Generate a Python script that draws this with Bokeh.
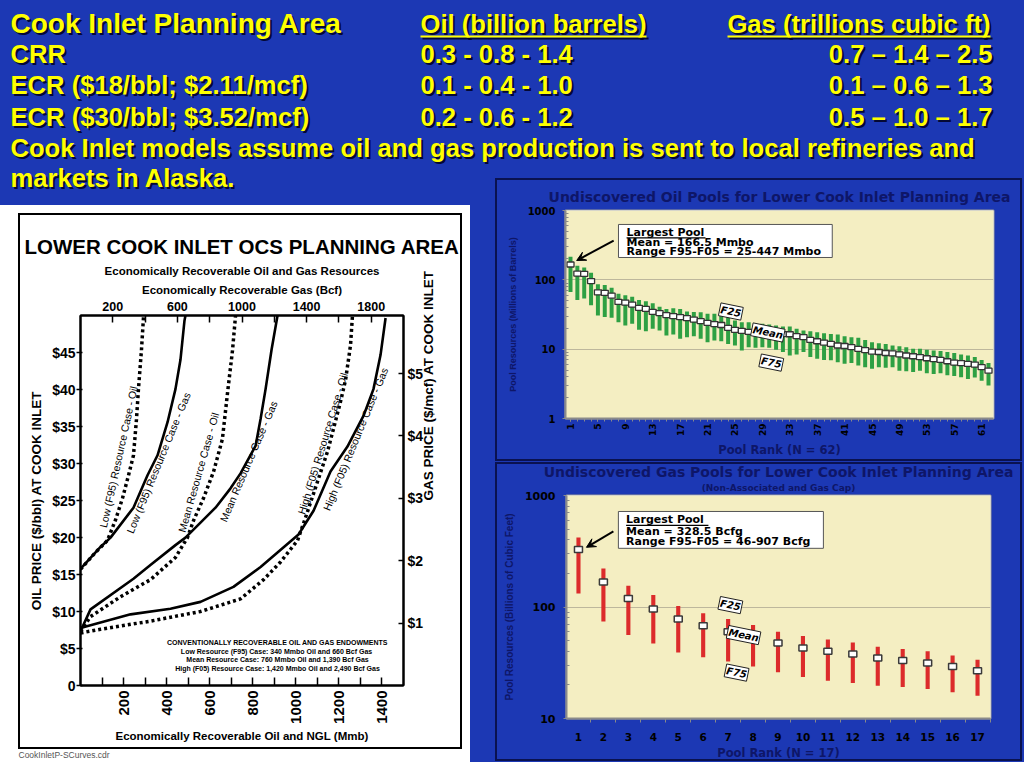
import math
from bokeh.plotting import figure
from bokeh.layouts import column, row
from bokeh.models import (Range1d, LinearAxis, FixedTicker, BoxAnnotation, Title,
                          Arrow, VeeHead, Label, PrintfTickFormatter)
from bokeh.core.properties import value
from bokeh.embed import file_html
from bokeh.resources import INLINE

# ---------------- header table ----------------
area_title = "Cook Inlet Planning Area"
oil_header = "Oil (billion barrels)"
gas_header = "Gas (trillions cubic ft)"
case_names = ["CRR", "ECR ($18/bbl; $2.11/mcf)", "ECR ($30/bbl; $3.52/mcf)"]
oil_ranges = ["0.3 - 0.8 - 1.4", "0.1 - 0.4 - 1.0", "0.2 - 0.6 - 1.2"]
gas_ranges = ["0.7 \u2013 1.4 \u2013 2.5", "0.1 \u2013 0.6 \u2013 1.3", "0.5 \u2013 1.0 \u2013 1.7"]
note_lines = ["Cook Inlet models assume oil and gas production is sent to local refineries and",
              "markets in Alaska."]

# ---------------- S-curve chart ----------------
oil_price_ticks = [0, 5, 10, 15, 20, 25, 30, 35, 40, 45]
oil_price_labels = ["0", "$5", "$10", "$15", "$20", "$25", "$30", "$35", "$40", "$45"]
gas_price_ticks = [1, 2, 3, 4, 5]
gas_price_labels = ["$1", "$2", "$3", "$4", "$5"]
oil_mmb_ticks = [100, 200, 300, 400, 500, 600, 700, 800, 900, 1000, 1100, 1200, 1300, 1400]
oil_mmb_labels = [200, 400, 600, 800, 1000, 1200, 1400]
gas_bcf_ticks = [200, 400, 600, 800, 1000, 1200, 1400, 1600, 1800]
gas_bcf_labels = [200, 600, 1000, 1400, 1800]

# oil curves: Mmb vs $/bbl (dotted)
low_oil_x = [0, 70, 125, 163, 195, 223, 246, 260, 269, 283, 293]
low_oil_y = [15.7, 18.0, 19.6, 22.4, 25.3, 28.4, 31.1, 36.0, 40.0, 45.3, 50.0]
mean_oil_x = [0, 46, 186, 325, 441, 497, 525, 571, 618, 659, 683, 706, 720]
mean_oil_y = [7.3, 9.3, 12.0, 14.3, 17.3, 20.0, 22.3, 25.3, 28.9, 33.3, 39.6, 45.3, 50.0]
high_oil_x = [0, 93, 325, 557, 743, 850, 929, 1008, 1045, 1091, 1147, 1175, 1207, 1231, 1254, 1263]
high_oil_y = [7.1, 7.6, 8.7, 10.0, 11.7, 14.3, 16.7, 19.6, 22.7, 26.7, 31.6, 34.7, 38.3, 41.3, 46.0, 50.0]
# gas curves: Bcf vs $/mcf (solid)
low_gas_x = [0, 124, 186, 328, 415, 477, 539, 588, 619, 644, 650]
low_gas_y = [1.87, 2.22, 2.37, 2.85, 3.37, 3.69, 4.22, 4.75, 5.22, 5.85, 5.93]
mean_gas_x = [0, 62, 328, 433, 588, 650, 743, 836, 929, 991, 1084, 1115, 1146, 1183, 1220]
mean_gas_y = [0.87, 1.22, 1.71, 1.93, 2.25, 2.37, 2.61, 2.85, 3.16, 3.40, 3.84, 4.27, 4.75, 5.38, 5.93]
high_gas_x = [0, 310, 557, 743, 947, 1115, 1350, 1443, 1548, 1653, 1752, 1814, 1858, 1889]
high_gas_y = [0.92, 1.14, 1.23, 1.34, 1.58, 1.90, 2.42, 2.80, 3.43, 3.83, 4.32, 4.75, 5.30, 5.89]

curve_names = ["Low (F95) Resource Case - Oil", "Low (F95) Resource Case - Gas",
               "Mean Resource Case - Oil", "Mean Resource Case - Gas",
               "High (F05) Resource Case - Oil", "High (F05) Resource Case - Gas"]
endowment_lines = ["CONVENTIONALLY RECOVERABLE OIL AND GAS ENDOWMENTS",
                   "Low Resource (F95) Case:  340 Mmbo Oil and 660 Bcf Gas",
                   "Mean Resource Case: 760 Mmbo Oil and 1,390 Bcf Gas",
                   "High (F05) Resource Case: 1,420 Mmbo Oil and 2,490 Bcf Gas"]

# ---------------- oil pools (62) ----------------
oil_rank = list(range(1, 63))
oil_rank_labels = [1, 5, 9, 13, 17, 21, 25, 29, 33, 37, 41, 45, 49, 53, 57, 61]
oil_mean = [166.5, 123, 122, 96, 66, 65, 59, 48, 47, 44,
            39.5, 38, 34.5, 33, 31, 30, 29, 28, 26.7, 25.3,
            24, 23, 22.3, 20.3, 19, 18.3, 17.8, 17.5, 17.2, 17,
            16.8, 16.5, 16.4, 15.4, 14.9, 13.6, 13.0, 12.4, 11.9, 11.3,
            11.1, 10.7, 10.1, 9.7, 9.2, 9.1, 8.8, 8.7, 8.4, 8.1,
            7.9, 7.7, 7.4, 7.2, 7.0, 6.7, 6.4, 6.3, 6.15, 6.0,
            5.5, 4.9]
oil_f25 = [215, 159, 151, 126, 86, 84, 77, 63, 60, 57,
           51, 49, 46, 41, 38, 39, 38, 35, 34.5, 34.2,
           32.4, 32.4, 30.7, 29.7, 25.9, 24.5, 24.5, 23.2, 23.2, 22.7,
           22.0, 21.3, 21.3, 19.7, 18.6, 18.2, 17.6, 17.0, 16.6, 16.3,
           15.3, 14.9, 14.6, 13.6, 12.6, 12.2, 11.9, 11.3, 11.0, 10.7,
           10.1, 10.1, 9.8, 9.6, 9.4, 9.1, 8.8, 8.4, 8.1, 7.7,
           7.0, 6.3]
oil_f75 = [67, 51, 54, 43, 30.7, 29.0, 28.4, 24.5, 22, 23.2,
           19.0, 18.2, 19.7, 18.6, 15.7, 16.3, 14.1, 14.9, 15.3, 14.1,
           12.6, 13.3, 13.0, 11.9, 11.3, 9.6, 10.7, 10.5, 10.7, 10.5,
           9.8, 9.1, 8.1, 8.4, 9.1, 7.7, 7.3, 7.0, 6.9, 6.5,
           6.15, 6.3, 5.8, 5.5, 5.2, 5.5, 5.4, 5.5, 4.9, 4.8,
           4.7, 4.9, 4.5, 4.4, 4.5, 4.2, 4.1, 3.95, 3.7, 3.9,
           3.5, 3.0]
oil_note = ["Largest Pool", "Mean = 166.5 Mmbo", "Range F95-F05 = 25-447 Mmbo"]

# ---------------- gas pools (17) ----------------
gas_rank = list(range(1, 18))
gas_mean = [328.5, 168, 119, 96, 78, 68, 60, 54, 47.5, 42.8, 40, 37.8, 34.8, 33.2, 31.4, 29.3, 26.8]
gas_f25 = [419, 221, 155, 128, 102, 88, 78, 69, 60, 55, 51, 48, 44, 42, 40, 36.8, 33.6]
gas_f75 = [132, 74, 56, 47, 39, 35.5, 32.5, 29.3, 26, 23.6, 21.8, 20.8, 19.7, 19.2, 18.4, 17.2, 16.0]
gas_note = ["Largest Pool", "Mean = 328.5 Bcfg", "Range F95-F05 = 46-907 Bcfg"]
tag_names = ["F25", "Mean", "F75"]

# ---------------- styles ----------------
BG = "#1c38b4"
YEL = "#ffff00"
SHADOW = "#00001e"
NAVY = "#0e1668"
EDGE = "#0a1250"
TAN = "#f4eec2"
GREEN = "#2ea043"
RED = "#dc2b2b"
LIB = "Liberation Sans"
DJV = "DejaVu Sans"


def css_frame(color, x, y, w, h, t, base):
    """CSS background drawing a rectangular outline (lines) over a base colour."""
    g = f"linear-gradient({color},{color})"
    return (f"{g} {x}px {y}px / {w}px {t}px no-repeat, "
            f"{g} {x}px {y + h - t}px / {w}px {t}px no-repeat, "
            f"{g} {x}px {y}px / {t}px {h}px no-repeat, "
            f"{g} {x + w - t}px {y}px / {t}px {h}px no-repeat, {base}")


def blank_fig(w, h):
    p = figure(width=w, height=h, x_range=Range1d(0, w), y_range=Range1d(h, 0),
               output_backend="svg", toolbar_location=None, min_border=0, title=None,
               x_axis_location=None, y_axis_location=None, frame_align=False)
    p.grid.visible = False
    p.outline_line_color = None
    p.background_fill_color = BG
    p.border_fill_color = BG
    return p


def yellow_text(p, xs, ys, texts, size, align="left"):
    common = dict(text_font=value(LIB), text_font_style="bold", text_font_size=size,
                  text_align=align, text_baseline="middle")
    p.text(x=[x + 2 for x in xs], y=[y + 2 for y in ys], text=texts,
           text_color=SHADOW, text_alpha=0.85, **common)
    p.text(x=xs, y=ys, text=texts, text_color=YEL, **common)


def style_axis(ax, font, lsize, asize, lcolor="black", acolor="black"):
    ax.major_label_text_font = font
    ax.major_label_text_font_size = lsize
    ax.major_label_text_font_style = "bold"
    ax.major_label_text_color = lcolor
    ax.axis_label_text_font = font
    ax.axis_label_text_font_size = asize
    ax.axis_label_text_font_style = "bold"
    ax.axis_label_text_color = acolor


# ================= header =================
hdr = blank_fig(1024, 165)
c1, c2, c3 = 10, 420, 992
row_y = [53.8, 84.8, 116.8]
yellow_text(hdr, [c1], [22.8], [area_title], "28px")
yellow_text(hdr, [c2], [23.8], [oil_header], "25.6px")
yellow_text(hdr, [c3 - 2], [23.8], [gas_header], "25.6px", align="right")
hdr.segment(x0=[c2 + 2, 727 + 2], y0=[38, 38], x1=[646 + 2, 990 + 2], y1=[38, 38],
            line_color=SHADOW, line_alpha=0.85, line_width=2)
hdr.segment(x0=[c2, 727], y0=[36, 36], x1=[646, 990], y1=[36, 36],
            line_color=YEL, line_width=2)
yellow_text(hdr, [c1] * 3, row_y, case_names, "25.6px")
yellow_text(hdr, [c2] * 3, row_y, oil_ranges, "25.6px")
yellow_text(hdr, [c3] * 3, row_y, gas_ranges, "25.6px", align="right")
yellow_text(hdr, [c1], [147.8], [note_lines[0]], "25.6px")

strip = blank_fig(470, 40)
yellow_text(strip, [c1], [12.8], [note_lines[1]], "25.6px")

# ================= S-curve chart =================
lp = figure(width=470, height=557, x_range=Range1d(0, 1500), y_range=Range1d(0, 50),
            output_backend="svg", toolbar_location=None, title=None, frame_align=False,
            min_border_left=80, min_border_right=67, min_border_top=110, min_border_bottom=72,
            styles={"background": css_frame("#000", 18, 8, 444, 536, 2, "#ffffff")})
lp.extra_x_ranges = {"gasx": Range1d(0, 2000)}
lp.extra_y_ranges = {"gasy": Range1d(0, 5.93)}
lp.grid.visible = False
lp.background_fill_color = "white"
lp.border_fill_color = "white"
lp.border_fill_alpha = 0
lp.outline_line_color = "black"
lp.outline_line_width = 2

ly = lp.yaxis[0]
ly.ticker = FixedTicker(ticks=oil_price_ticks)
ly.major_label_overrides = dict(zip(oil_price_ticks, oil_price_labels))
ly.axis_label = "OIL PRICE ($/bbl) AT COOK INLET"
style_axis(ly, LIB, "14px", "13.5px")
ly.axis_line_width = 2
ly.major_tick_in, ly.major_tick_out = 2, 4
ly.major_tick_line_width = 1.5
ly.minor_tick_line_color = None
ly.major_label_standoff = 1
ly.axis_label_standoff = 5

bx = lp.xaxis[0]
bx.ticker = FixedTicker(ticks=oil_mmb_ticks)
bx.major_label_overrides = {t: (str(t) if t in oil_mmb_labels else "") for t in oil_mmb_ticks}
bx.major_label_orientation = math.pi / 2
bx.axis_label = "Economically Recoverable Oil and NGL (Mmb)"
style_axis(bx, LIB, "15px", "11.5px")
bx.axis_line_width = 2
bx.major_tick_in, bx.major_tick_out = 8, 0
bx.major_tick_line_width = 1.5
bx.minor_tick_line_color = None
bx.major_label_standoff = 5
bx.axis_label_standoff = 3

tx = LinearAxis(x_range_name="gasx", ticker=FixedTicker(ticks=gas_bcf_ticks))
tx.major_label_overrides = {t: (str(t) if t in gas_bcf_labels else "") for t in gas_bcf_ticks}
tx.axis_label = "Economically Recoverable Gas (Bcf)"
style_axis(tx, LIB, "12.5px", "11.5px")
tx.axis_line_width = 2
tx.major_tick_in, tx.major_tick_out = 7, 0
tx.major_tick_line_width = 1.5
tx.minor_tick_line_color = None
tx.major_label_standoff = 5
tx.axis_label_standoff = 3
lp.add_layout(tx, "above")

ry = LinearAxis(y_range_name="gasy", ticker=FixedTicker(ticks=gas_price_ticks))
ry.major_label_overrides = dict(zip(gas_price_ticks, gas_price_labels))
ry.axis_label = "GAS PRICE ($/mcf) AT COOK INLET"
ry.axis_label_orientation = math.pi / 2
style_axis(ry, LIB, "14px", "13.5px")
ry.axis_line_width = 2
ry.major_tick_in, ry.major_tick_out = 5, 0
ry.major_tick_line_width = 1.5
ry.minor_tick_line_color = None
ry.major_label_standoff = 4
ry.axis_label_standoff = 2
lp.add_layout(ry, "right")

lp.add_layout(Title(text="Economically Recoverable Oil and Gas Resources", align="center",
                    text_font=LIB, text_font_size="11.5px", text_font_style="bold",
                    text_color="black", standoff=7), "above")
lp.add_layout(Title(text="LOWER COOK INLET OCS PLANNING AREA", align="center",
                    text_font=LIB, text_font_size="20.5px", text_font_style="bold",
                    text_color="black", standoff=4), "above")
lp.add_layout(Title(text="CookInletP-SCurves.cdr", align="left", offset=-62,
                    text_font=LIB, text_font_size="8.5px", text_font_style="normal",
                    text_color="#555555", standoff=6), "below")

for gx, gy in [(low_gas_x, low_gas_y), (mean_gas_x, mean_gas_y), (high_gas_x, high_gas_y)]:
    lp.line(gx, gy, x_range_name="gasx", y_range_name="gasy", line_color="black", line_width=2.6)
for ox_, oy_ in [(low_oil_x, low_oil_y), (mean_oil_x, mean_oil_y), (high_oil_x, high_oil_y)]:
    lp.line(ox_, oy_, line_color="black", line_width=3.5, line_dash="3 3")

lbl_x = [176, 362, 548, 780, 1124, 1277]
lbl_y = [30.9, 30.1, 28.8, 30.3, 32.7, 33.3]
lbl_deg = [77.6, 67.6, 74.0, 66.8, 73.0, 67.5]
lp.text(x=lbl_x, y=lbl_y, text=curve_names, angle=[math.radians(a) for a in lbl_deg],
        text_align="center", text_baseline="middle", text_font=value(LIB),
        text_font_size="10.5px", text_color="black")
lp.text(x=[915] * 4, y=[5.87, 4.53, 3.47, 2.27], text=endowment_lines,
        text_align="center", text_baseline="middle", text_font=value(LIB),
        text_font_size="7px", text_font_style="bold", text_color="black")


# ================= pool panels =================
def pool_fig(w, h, xr, yr, borders, outline_css):
    p = figure(width=w, height=h, x_range=Range1d(*xr), y_range=Range1d(*yr), y_axis_type="log",
               output_backend="svg", toolbar_location=None, title=None, frame_align=False,
               min_border_left=borders[0], min_border_right=borders[1],
               min_border_top=borders[2], min_border_bottom=borders[3],
               styles={"background": outline_css})
    p.background_fill_color = TAN
    p.border_fill_color = BG
    p.border_fill_alpha = 0
    p.outline_line_color = "#9a9a9a"
    p.outline_line_width = 2
    p.xgrid.visible = False
    return p


def panel_boxes(p, white):
    p.add_layout(BoxAnnotation(left=white[0], right=white[1], top=white[2], bottom=white[3],
                               fill_color="white", fill_alpha=1, line_alpha=0, level="image"))
    p.add_layout(BoxAnnotation(fill_color=TAN, fill_alpha=1, line_alpha=0, level="image"))


def log_y_axis(p, decades, label, lsize, asize, lstand, astand):
    ay = p.yaxis[0]
    minors = [m * d for d in decades[:-1] for m in range(2, 10)]
    ay.ticker = FixedTicker(ticks=decades, minor_ticks=minors)
    ay.formatter = PrintfTickFormatter(format="%d")
    style_axis(ay, DJV, lsize, asize, acolor=NAVY)
    ay.axis_label_text_font = LIB
    ay.axis_label = label
    ay.axis_line_color = "#8a8a8a"
    ay.axis_line_width = 2
    ay.major_tick_out, ay.major_tick_in = 3, 0
    ay.minor_tick_out, ay.minor_tick_in = 0, 3
    ay.major_tick_line_color = "#8a8a8a"
    ay.minor_tick_line_color = "#8a8a8a"
    ay.major_label_standoff = lstand
    ay.axis_label_standoff = astand
    p.ygrid.ticker = FixedTicker(ticks=decades)
    p.ygrid.grid_line_color = "#bdb79c"
    p.ygrid.grid_line_width = 1
    return ay


def note_box(p, box, tx_, ty, lines, uline, arrow):
    p.quad(left=[box[0]], right=[box[1]], top=[box[2]], bottom=[box[3]],
           fill_color="white", line_color="#555555", line_width=1)
    p.text(x=[tx_] * 3, y=ty, text=lines, text_font=value(DJV), text_font_style="bold",
           text_font_size="11px", text_baseline="middle", text_color="black")
    p.segment(x0=[uline[0]], y0=[uline[2]], x1=[uline[1]], y1=[uline[2]], line_color="black", line_width=1.2)
    p.add_layout(Arrow(end=VeeHead(size=9, fill_color="black", line_color="black"),
                       x_start=arrow[0], y_start=arrow[1], x_end=arrow[2], y_end=arrow[3],
                       line_color="black", line_width=2))


def tags(p, xs, ys):
    for t, x, y in zip(tag_names, xs, ys):
        p.add_layout(Label(x=x, y=y, text=t, angle=-0.2, text_align="center", text_baseline="middle",
                           text_font=DJV, text_font_size="10px", text_font_style="bold italic",
                           text_color="black", background_fill_color="white",
                           border_line_color="#222222", border_line_width=1, padding=1))


# ---- oil panel ----
op = pool_fig(554, 296, (0.27, 62.73), (1, 1000), (95, 31, 45, 43),
              css_frame(EDGE, 25, 13, 527, 283, 2, BG))
panel_boxes(op, (-5.72, 63.48, 1222, 0.532))
log_y_axis(op, [1, 10, 100, 1000], "Pool Resources (Millions of Barrels)", "10px", "9px", 7, 7)
oxa = op.xaxis[0]
oxa.ticker = FixedTicker(ticks=oil_rank_labels, minor_ticks=oil_rank)
oxa.major_label_orientation = math.pi / 2
style_axis(oxa, DJV, "9px", "11.5px", acolor=NAVY)
oxa.axis_label = "Pool Rank (N = 62)"
oxa.axis_line_color = "#8a8a8a"
oxa.axis_line_width = 2
oxa.major_tick_out, oxa.major_tick_in = 3, 0
oxa.minor_tick_out, oxa.minor_tick_in = 3, 0
oxa.major_tick_line_color = "#8a8a8a"
oxa.minor_tick_line_color = "#8a8a8a"
oxa.major_label_standoff = 2
oxa.axis_label_standoff = 4
op.add_layout(Title(text="Undiscovered Oil Pools for Lower Cook Inlet Planning Area", align="center",
                    offset=-12, text_font=DJV, text_font_size="14px", text_font_style="bold",
                    text_color=NAVY, standoff=11), "above")
op.vbar(x=oil_rank, top=oil_f25, bottom=oil_f75, width=0.58, fill_color=GREEN, line_color=None)
op.rect(x=oil_rank, y=oil_mean, width=7, height=5, width_units="screen", height_units="screen",
        fill_color="white", line_color="#333333", line_width=1.3)
note_box(op, (8.0, 39.2, 629, 210), 9.18, [482, 346, 256], oil_note, (9.18, 20.7, 404),
         (7.3, 369, 1.9, 190))
tags(op, [24.4, 29.8, 30.3], [34.9, 17.4, 6.4])

# ---- gas panel ----
gp = pool_fig(554, 301, (0.52, 17.52), (10, 1000), (96, 34, 34, 43),
              css_frame(EDGE, 25, 1, 527, 299, 2, BG))
panel_boxes(gp, (-1.245, 17.72, 1109, 6.49))
log_y_axis(gp, [10, 100, 1000], "Pool Resources (Billions of Cubic Feet)", "11px", "10px", 8, 7)
gxa = gp.xaxis[0]
gxa.ticker = FixedTicker(ticks=gas_rank, minor_ticks=[r - 0.5 for r in gas_rank] + [17.5])
style_axis(gxa, DJV, "10.5px", "11.5px", acolor=NAVY)
gxa.axis_label = "Pool Rank (N = 17)"
gxa.axis_line_color = "#8a8a8a"
gxa.axis_line_width = 2
gxa.major_tick_line_color = None
gxa.major_tick_out, gxa.major_tick_in = 0, 0
gxa.minor_tick_out, gxa.minor_tick_in = 4, 0
gxa.minor_tick_line_color = "#8a8a8a"
gxa.major_label_standoff = 10
gxa.axis_label_standoff = 2
gp.add_layout(Title(text="(Non-Associated and Gas Cap)", align="center", offset=-10,
                    text_font=DJV, text_font_size="9px", text_font_style="bold",
                    text_color=NAVY, standoff=5), "above")
gp.add_layout(Title(text="Undiscovered Gas Pools for Lower Cook Inlet Planning Area", align="center",
                    offset=-10, text_font=DJV, text_font_size="14px", text_font_style="bold",
                    text_color=NAVY, standoff=-3), "above")
gp.vbar(x=gas_rank, top=gas_f25, bottom=gas_f75, width=0.165, fill_color=RED, line_color=None)
gp.rect(x=gas_rank, y=gas_mean, width=8, height=6, width_units="screen", height_units="screen",
        fill_color="white", line_color="#3a3a3a", line_width=1.5)
note_box(gp, (2.60, 10.82, 719, 336), 2.91, [604, 477, 388], gas_note, (2.91, 6.21, 540),
         (2.40, 477, 1.32, 343))
tags(gp, [7.09, 7.62, 7.34], [104, 56, 25.8])

left_col = column(strip, lp, styles={"background": f"linear-gradient({BG} 0px, {BG} 41px, #ffffff 41px)"})
layout = column(hdr, row(left_col, column(op, gp), styles={"background-color": BG}),
                styles={"background-color": BG})
open("out.html", "w").write(file_html(layout, INLINE))
